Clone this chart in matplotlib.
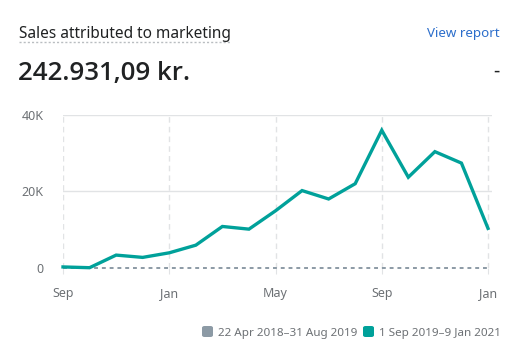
import matplotlib
matplotlib.use("Agg")
import matplotlib.pyplot as plt
from matplotlib.patches import FancyBboxPatch

plt.rcParams["font.family"] = ["Noto Sans", "DejaVu Sans"]

W, H = 522, 356

# monthly sales, Sep 2019 - Jan 2021 (thousands kr.)
months = ["Sep", "Oct", "Nov", "Dec", "Jan", "Feb", "Mar", "Apr", "May",
          "Jun", "Jul", "Aug", "Sep", "Oct", "Nov", "Dec", "Jan"]
current = [0.2, 0.0, 3.3, 2.7, 3.9, 5.9, 10.8, 10.1, 14.9,
           20.2, 18.0, 22.0, 36.0, 23.7, 30.4, 27.4, 10.3]
previous = [0.0] * len(months)

tick_idx = [0, 4, 8, 12, 16]
tick_labels = ["Sep", "Jan", "May", "Sep", "Jan"]
y_ticks = [0, 20, 40]
y_labels = ["0", "20K", "40K"]

legend_labels = ["22 Apr 2018\u201331 Aug 2019", "1 Sep 2019\u20139 Jan 2021"]

TEAL = "#00a19a"
PREV = "#8c9aa5"
GRID = "#e1e3e5"
TXT = "#6d7175"


def px(x, y):
    return x / W, 1 - y / H


fig = plt.figure(figsize=(W / 100, H / 100), dpi=100)
fig.patch.set_facecolor("white")

left, right, top, bottom = 63, 492, 115, 267.7
ax = fig.add_axes([left / W, 1 - bottom / H, (right - left) / W, (bottom - top) / H])
x = list(range(len(months)))
ax.set_xlim(0, 16 + 4 / 26.6)
ax.set_ylim(0, 40)

for t in tick_idx:
    ax.axvline(t, color=GRID, lw=1, ls=(0, (4, 3)), zorder=1)
for v in y_ticks[1:]:
    ax.axhline(v, color=GRID, lw=1, zorder=1)

ax.plot(x, previous, color=PREV, lw=1.4, ls=(0, (2, 2)), zorder=2, clip_on=False)
ax.plot(x, current, color=TEAL, lw=2.4, solid_joinstyle="miter", zorder=3, clip_on=False)

for s in ax.spines.values():
    s.set_visible(False)
ax.set_xticks(tick_idx)
ax.set_xticklabels(tick_labels)
ax.set_yticks(y_ticks)
ax.set_yticklabels(y_labels)
ax.tick_params(axis="x", length=4, color=GRID, pad=10, labelsize=9, labelcolor=TXT)
ax.tick_params(axis="y", length=0, pad=14, labelsize=9, labelcolor=TXT)

# header
fig.text(*px(19, 38), "Sales attributed to marketing", fontsize=11.1, color="#202223",
         ha="left", va="baseline")
fig.add_artist(plt.Line2D([19 / W, 230 / W], [1 - 42 / H] * 2, color="#b9bdc1",
                          lw=1, ls=(0, (1.5, 1.5))))
fig.text(*px(500, 37), "View report", fontsize=9.6, color="#2c6ecb", ha="right", va="baseline")
fig.text(*px(18, 80), "242.931,09 kr.", fontsize=18.6, fontweight="semibold",
         family=["Open Sans", "DejaVu Sans"], color="#202223", ha="left", va="baseline")
fig.text(*px(499, 77), "-", fontsize=14, color="#202223", ha="right", va="baseline")

# legend
sq = 11
for (sx, tx), lab, col in zip([(202, 218), (363, 379)], legend_labels, [PREV, TEAL]):
    fig.add_artist(FancyBboxPatch(px(sx, 326 + sq), sq / W, sq / H,
                                  boxstyle="round,pad=0,rounding_size=0.005",
                                  transform=fig.transFigure, facecolor=col, edgecolor="none"))
    fig.text(*px(tx, 336), lab, fontsize=8.4, color=TXT, ha="left", va="baseline")

fig.savefig("out.png", dpi=100)
